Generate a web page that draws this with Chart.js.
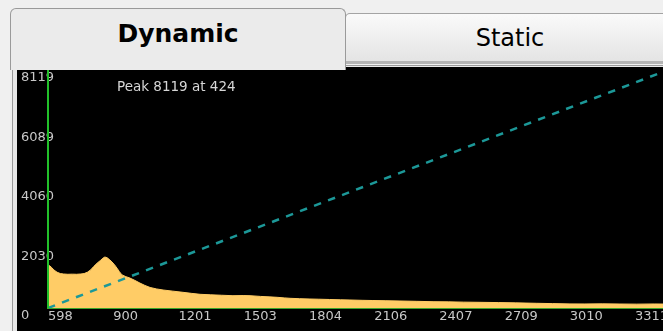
<!DOCTYPE html>
<html>
<head>
<meta charset="utf-8">
<script src="https://cdn.jsdelivr.net/npm/chart.js@4.4.1/dist/chart.umd.min.js"></script>
<style>
  html, body { margin: 0; padding: 0; width: 663px; height: 331px; overflow: hidden; background: #f0f0f0; }
  .tab { position: absolute; box-sizing: border-box; font-family: 'DejaVu Sans', sans-serif; text-align: center; color: #000; }
  #tab-dyn {
    left: 10px; top: 8px; width: 336px; height: 62px;
    background: #ebebeb; border: 1px solid #9a9a9a; border-bottom: none;
    border-radius: 6px 6px 0 0; font-weight: bold; font-size: 25px; padding-top: 10px; z-index: 2;
  }
  #tab-static {
    left: 345px; top: 13px; width: 330px; height: 51px;
    background: linear-gradient(#fafafa, #e4e4e4); border: 1px solid #a4a4a4; border-bottom: 3px solid #b4b4b4;
    border-radius: 5px 5px 0 0; font-size: 24px; padding-top: 10px;
  }
  #pane {
    position: absolute; left: 12px; top: 65px; width: 660px; height: 270px;
    background: #e8e8e8; border-left: 1px solid #9a9a9a; border-top: 1px solid #9a9a9a; box-sizing: border-box;
  }
  #plot { position: absolute; left: 17px; top: 67px; width: 646px; height: 264px; background: #000; }
  #peak {
    position: absolute; left: 117px; top: 80px; font-family: 'DejaVu Sans', sans-serif;
    font-size: 13.5px; line-height: 13.5px; color: #d6d6d6; white-space: nowrap;
  }
</style>
</head>
<body>
<div id="pane"></div>
<div class="tab" id="tab-static">Static</div>
<div class="tab" id="tab-dyn">Dynamic</div>
<div id="plot"><canvas id="chart" width="646" height="264"></canvas></div>
<div id="peak">Peak 8119 at 424</div>

<script>
// ── DATA ───────────────────────────────────────────────────────────────────

const X_TICKS = [598, 900, 1201, 1503, 1804, 2106, 2407, 2709, 3010, 3311];
const Y_TICKS = [0, 2030, 4060, 6089, 8119];

// histogram outline (bin value, count)
const HIST_X = [598, 606, 615, 625, 640, 655, 670, 690, 710, 730, 750, 765, 780, 795, 810, 825,
  840, 852, 861, 872, 884, 894, 906, 917, 928, 940, 958, 977, 1000, 1023, 1046, 1070, 1100,
  1130, 1175, 1222, 1260, 1301, 1350, 1400, 1453, 1500, 1532, 1580, 1620, 1657, 1690, 1717,
  1760, 1809, 1850, 1900, 1950, 1994, 2050, 2100, 2160, 2225, 2300, 2378, 2450, 2520, 2595,
  2680, 2760, 2858, 2930, 3011, 3080, 3160, 3242, 3320, 3400, 3441];
const HIST_Y = [1467, 1440, 1380, 1300, 1220, 1175, 1160, 1150, 1155, 1150, 1160, 1175, 1220,
  1300, 1420, 1530, 1620, 1700, 1740, 1710, 1640, 1570, 1470, 1360, 1240, 1130, 1070, 1020,
  940, 850, 770, 700, 650, 614, 575, 535, 500, 467, 450, 435, 420, 425, 420, 395, 380, 365,
  345, 331, 318, 307, 300, 290, 280, 273, 262, 255, 248, 239, 228, 215, 210, 200, 194, 185,
  175, 160, 150, 140, 138, 142, 136, 132, 138, 135];

// dashed reference line and the green marker
const REF_X = [598, 3463];
const REF_Y = [0, 8119];
const MARK_X = [598, 598];
const MARK_Y = [0, 8119];

const X_MIN = 598, X_MAX = 3441;
const Y_MAX = 8119;

// ── CHART ──────────────────────────────────────────────────────────────────

const pts = (xs, ys) => xs.map((x, i) => ({ x, y: ys[i] }));
const TICK_FONT = { family: 'DejaVu Sans', size: 13 };
const plain = v => String(v);

new Chart(document.getElementById('chart'), {
  type: 'line',
  data: {
    datasets: [
      {
        data: pts(MARK_X, MARK_Y),
        borderColor: '#22c02a', borderWidth: 2, pointRadius: 0, clip: 4, fill: false,
      },
      {
        data: pts(REF_X, REF_Y),
        borderColor: '#1c9898', borderWidth: 2.5, borderDash: [7.5, 7.5],
        pointRadius: 0, fill: false, tension: 0,
      },
      {
        data: pts(HIST_X, HIST_Y),
        borderColor: '#ffcc66', backgroundColor: '#ffcc66', borderWidth: 1,
        pointRadius: 0, fill: 'origin', tension: 0,
      },
    ],
  },
  options: {
    responsive: false,
    animation: false,
    events: [],
    layout: { padding: { left: 4, top: 3, right: 0, bottom: 0 } },
    plugins: { legend: { display: false }, tooltip: { enabled: false } },
    scales: {
      x: {
        type: 'linear', min: X_MIN, max: X_MAX,
        afterBuildTicks: s => { s.ticks = X_TICKS.map(v => ({ value: v })); },
        afterFit: s => { s.height = 23; s.paddingLeft = 0; s.paddingRight = 0; },
        ticks: { color: '#c8c8c8', font: TICK_FONT, align: 'start', autoSkip: false, maxRotation: 0, padding: 1, callback: plain },
        grid: { display: false, drawTicks: false },
        border: { display: true, color: '#3aa62a', width: 2 },
      },
      y: {
        min: 0, max: Y_MAX,
        afterBuildTicks: s => { s.ticks = Y_TICKS.map(v => ({ value: v })); },
        afterFit: s => { s.width = 27; s.paddingTop = 0; s.paddingBottom = 0; },
        // mirrored so the labels are not clipped to the narrow axis box
        ticks: { color: '#c8c8c8', font: TICK_FONT, mirror: true, crossAlign: 'near', labelOffset: 8, padding: -27, callback: plain },
        grid: { display: false, drawTicks: false },
        border: { display: false },
      },
    },
  },
});
</script>
</body>
</html>
